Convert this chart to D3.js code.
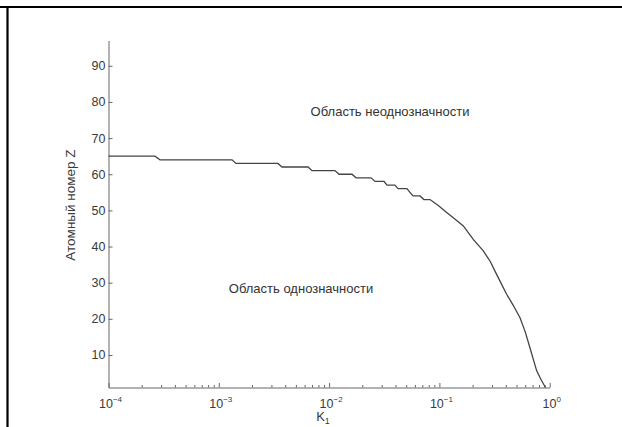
<!DOCTYPE html>
<html><head><meta charset="utf-8">
<script src="https://cdn.jsdelivr.net/npm/d3@7"></script>
<style>
html,body{margin:0;padding:0;background:#fff;overflow:hidden;width:622px;height:427px;}
svg{display:block;}
svg text{font-family:"Liberation Sans",Arial,Helvetica,sans-serif;}
</style></head>
<body><svg id="c" width="622" height="427"></svg>
<script>
// Boundary curve: K1 threshold vs atomic number Z
const kValues = [1e-4, 2.64e-4, 2.93e-4, 1.318e-3, 1.43e-3, 3.44e-3, 3.74e-3, 6.44e-3, 7.0e-3,
  1.131e-2, 1.23e-2, 1.613e-2, 1.754e-2, 2.40e-2, 2.61e-2, 3.15e-2, 3.35e-2, 3.95e-2, 4.22e-2,
  5.08e-2, 5.41e-2, 5.77e-2, 6.67e-2, 7.24e-2, 8.22e-2,
  0.097, 0.1164, 0.138, 0.1648, 0.2028, 0.250, 0.290, 0.330, 0.407, 0.470, 0.538, 0.600, 0.662, 0.762, 0.840, 0.916];
const zValues = [65, 65, 64, 64, 63, 63, 62, 62, 61,
  61, 60, 60, 59, 59, 58, 58, 57, 57, 56,
  56, 55, 54, 54, 53, 53,
  51.4, 49.4, 47.6, 45.7, 42, 38.8, 35.8, 32.3, 26.8, 23.6, 20.3, 16.4, 12, 5.6, 3.0, 1];
const yTicks = [10, 20, 30, 40, 50, 60, 70, 80, 90];
const xMajorExp = [-4, -3, -2, -1, 0];
const yLabel = "Атомный номер Z";
const xLabel = "K";
const xLabelSub = "1";
const regionTop = "Область неоднозначности";
const regionBottom = "Область однозначности";

const svg = d3.select("#c");
svg.append("rect").attr("width",622).attr("height",427).attr("fill","#fff");
// page frame lines
svg.append("line").attr("x1",0).attr("x2",622).attr("y1",7).attr("y2",7).attr("stroke","#000").attr("stroke-width",2.2);
svg.append("line").attr("x1",7.5).attr("x2",7.5).attr("y1",6).attr("y2",427).attr("stroke","#000").attr("stroke-width",2.2);

const x = d3.scaleLog().domain([1e-4, 1]).range([108.5, 549.7]);
const y = d3.scaleLinear().domain([1, 97]).range([387.5, 40.5]);

const axisColor = "#666";
const textColor = "#3a3a3a";
const tickFont = 12.5;

// x axis
const minorVals = [];
xMajorExp.forEach(e => { if (e < 0) for (let m = 2; m <= 9; m++) minorVals.push(m * Math.pow(10, e)); });
const majorVals = xMajorExp.map(e => Math.pow(10, e));
const gx = svg.append("g").attr("transform","translate(0,387.5)");
gx.call(d3.axisBottom(x).tickValues(minorVals).tickSizeInner(-2.5).tickSizeOuter(0).tickFormat(""));
gx.append("g").call(d3.axisBottom(x).tickValues(majorVals).tickSizeInner(-4.5).tickSizeOuter(0).tickFormat(""))
  .select(".domain").remove();
gx.selectAll("path,line").attr("stroke",axisColor);
xMajorExp.forEach(e => {
  const t = gx.append("text").attr("x", x(Math.pow(10,e)) + 2).attr("y", 20).attr("text-anchor","middle")
    .attr("fill",textColor).attr("font-size",tickFont);
  t.append("tspan").text("10");
  t.append("tspan").attr("dy",-5.5).attr("font-size",8).text(e === 0 ? "0" : "\u2212" + (-e));
});

// y axis
const gy = svg.append("g").attr("transform","translate(108.5,0)");
gy.call(d3.axisLeft(y).tickValues(yTicks).tickSizeInner(-4).tickSizeOuter(0).tickPadding(3));
gy.selectAll("path,line").attr("stroke",axisColor);
gy.selectAll("text").attr("fill",textColor).attr("font-size",tickFont).attr("font-family","'Liberation Sans',Arial,sans-serif");

// curve
const line = d3.line().x((d,i) => x(kValues[i])).y((d,i) => y(zValues[i])).curve(d3.curveLinear);
svg.append("path").datum(zValues).attr("d", line).attr("fill","none").attr("stroke","#444").attr("stroke-width",1.3);

// labels
svg.append("text").attr("transform","translate(75,205) rotate(-90)").attr("text-anchor","middle")
  .attr("font-size",13.5).attr("fill",textColor).text(yLabel);
const xl = svg.append("text").attr("x",323).attr("y",421).attr("text-anchor","middle").attr("font-size",13).attr("fill",textColor);
xl.append("tspan").text(xLabel);
xl.append("tspan").attr("dy",3).attr("font-size",9).text(xLabelSub);
svg.append("text").attr("x",390).attr("y",116).attr("text-anchor","middle").attr("font-size",13).attr("fill","#333").text(regionTop);
svg.append("text").attr("x",301).attr("y",293).attr("text-anchor","middle").attr("font-size",13).attr("fill","#333").text(regionBottom);
</script></body></html>
